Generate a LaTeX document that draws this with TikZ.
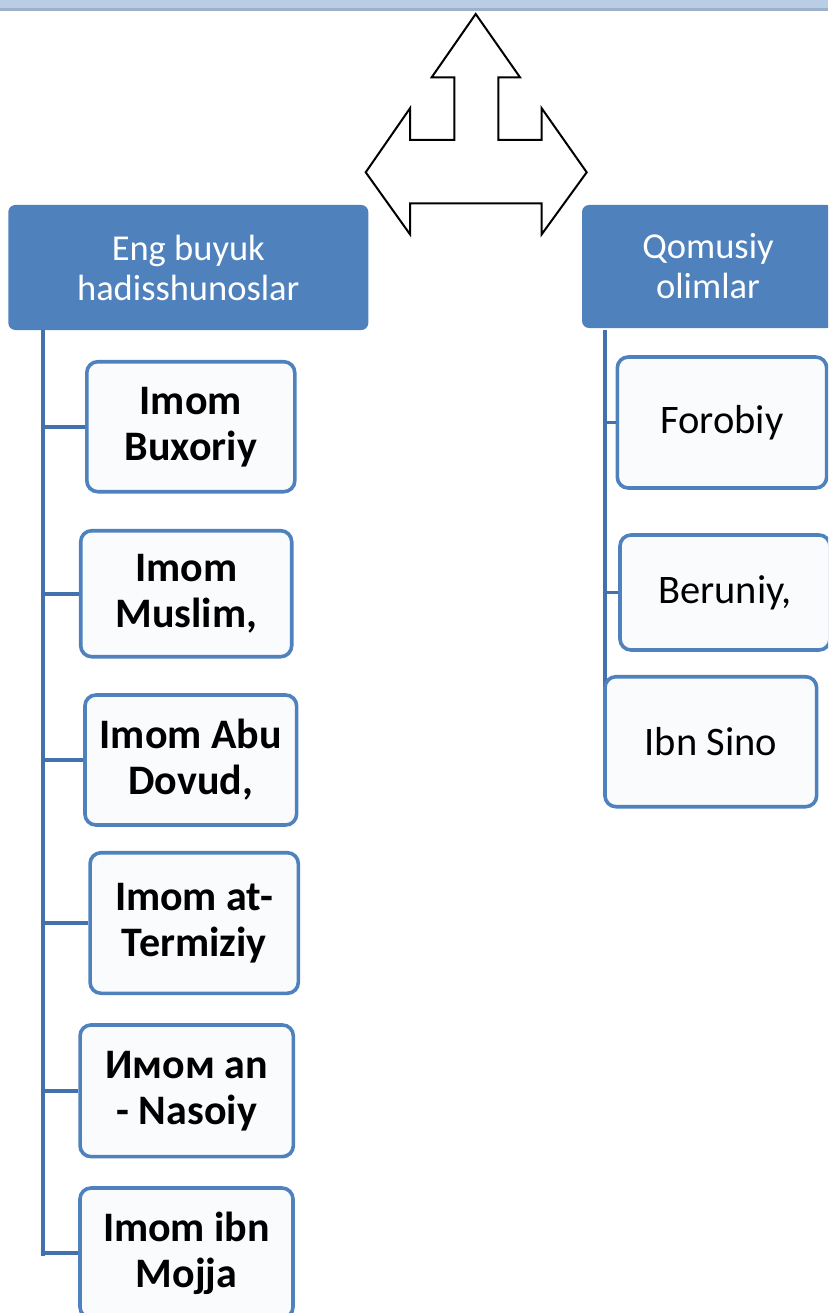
\documentclass[tikz,border=0pt]{standalone}
\usepackage{fontspec}
\setmainfont{Carlito}
\definecolor{hdr}{HTML}{4F81BD}
\definecolor{cbord}{HTML}{4F81BD}
\definecolor{cfill}{HTML}{FAFBFD}
\definecolor{lnk}{HTML}{4271AE}
\definecolor{band}{HTML}{B9CDE5}
\definecolor{bandb}{HTML}{9DB1CA}
\begin{document}
\begin{tikzpicture}[x=1pt,y=-1pt,
  header/.style={fill=hdr, draw=none, rounded corners=7pt, text=white, align=center,
    font=\fontsize{36.5}{40}\selectfont, inner sep=0pt},
  child/.style={fill=cfill, draw=cbord, line width=3.6pt, rounded corners=11pt, align=center,
    inner sep=0pt},
  lchild/.style={child, font=\fontsize{42}{46}\selectfont\bfseries},
  rchild/.style={child, font=\fontsize{40.5}{44}\selectfont},
  link/.style={draw=lnk, line width=3.6pt}]
\useasboundingbox (0,0) rectangle (828,1313);
\clip (0,0) rectangle (828,1313);
% top band
\fill[band] (0,0) rectangle (828,8);
\fill[bandb] (0,8) rectangle (828,11);
% three-way arrow
\draw[black, line width=2pt, fill=white, line join=miter]
  (475.7,14) -- (520,77.3) -- (498.3,77.3) -- (498.3,140) -- (541.7,140) -- (541.7,108.3)
  -- (586.7,172.3) -- (541.7,234.3) -- (541.7,203.3) -- (410,203.3) -- (410,234.3)
  -- (365.7,172.3) -- (410,108.3) -- (410,140) -- (454.3,140) -- (454.3,77.3)
  -- (431.7,77.3) -- cycle;
% headers
\node[header, minimum width=360pt, minimum height=125pt] (hl) at (188.3,267.5)
  {Eng buyuk\\hadisshunoslar};
\node[header, minimum width=252pt, minimum height=123pt] (hr) at (708,266.5)
  {Qomusiy\\olimlar};
% vertical lines
\coordinate (lt) at (43,330);
\coordinate (lb) at (43,1256);
\coordinate (rt) at (605,330);
\coordinate (rb) at (605,741);
\draw[link] (lt) -- (lb);
\draw[link] (rt) -- (rb);
% left children
\node[lchild, minimum width=208pt, minimum height=130pt] (b1) at (190.8,426.7) {Imom\\Buxoriy};
\node[lchild, minimum width=211pt, minimum height=126pt] (b2) at (186.2,593.7) {Imom\\Muslim,};
\node[lchild, minimum width=211.7pt, minimum height=130pt] (b3) at (190.8,760) {Imom Abu\\Dovud,};
\node[lchild, minimum width=208.3pt, minimum height=140.6pt] (b4) at (194.2,923) {Imom at-\\Termiziy};
\node[lchild, minimum width=213.3pt, minimum height=131.7pt] (b5) at (186.7,1090.8) {Имом an\\- Nasoiy};
\node[lchild, minimum width=213pt, minimum height=130pt] (b6) at (186.5,1253) {Imom ibn\\Mojja};
\foreach \n in {b1,b2,b3,b4,b5,b6} {
  \draw[link] (\n.west) -- (\n.west -| lt);
}
% right children
\node[rchild, minimum width=209.4pt, minimum height=131pt] (r1) at (722,422.5) {Forobiy};
\node[rchild, minimum width=210pt, minimum height=115pt] (r2) at (725,592.5) {Beruniy,};
\draw[link] (r1.west) -- (r1.west -| rt);
\draw[link] (r2.west) -- (r2.west -| rt);
\node[rchild, minimum width=211.7pt, minimum height=130pt] (r3) at (710.8,741.7) {Ibn Sino};
\end{tikzpicture}
\end{document}
